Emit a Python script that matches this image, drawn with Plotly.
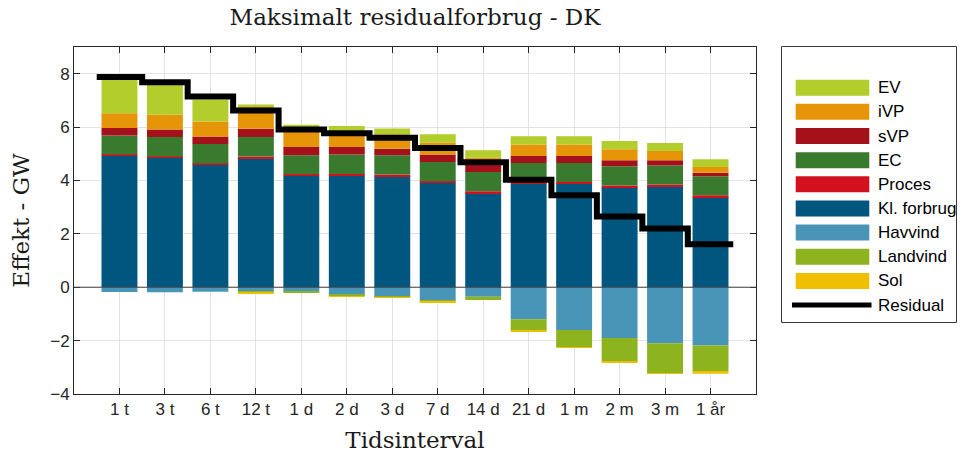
import plotly.graph_objects as go

categories = ["1 t", "3 t", "6 t", "12 t", "1 d", "2 d", "3 d", "7 d", "14 d", "21 d", "1 m", "2 m", "3 m", "1 år"]

ev       = [1.47, 1.19, 0.82, 0.07, 0.07, 0.18, 0.22, 0.31, 0.27, 0.31, 0.31, 0.31, 0.30, 0.29]
ivp      = [0.55, 0.55, 0.56, 0.84, 0.77, 0.61, 0.54, 0.45, 0.22, 0.43, 0.43, 0.41, 0.34, 0.21]
svp      = [0.29, 0.28, 0.28, 0.31, 0.31, 0.28, 0.25, 0.28, 0.32, 0.27, 0.27, 0.23, 0.20, 0.13]
ec       = [0.71, 0.73, 0.73, 0.73, 0.71, 0.73, 0.72, 0.72, 0.72, 0.71, 0.71, 0.72, 0.71, 0.71]
proces   = [0.05, 0.04, 0.05, 0.06, 0.06, 0.06, 0.06, 0.05, 0.07, 0.06, 0.06, 0.06, 0.07, 0.07]
kl_forbrug = [4.92, 4.86, 4.59, 4.84, 4.17, 4.18, 4.16, 3.92, 3.53, 3.88, 3.88, 3.75, 3.78, 3.38]
havvind  = [-0.18, -0.19, -0.17, -0.16, -0.16, -0.29, -0.36, -0.48, -0.36, -1.20, -1.60, -1.90, -2.10, -2.18]
landvind = [0.0, 0.0, 0.0, -0.05, -0.04, -0.04, -0.03, -0.07, -0.12, -0.43, -0.65, -0.89, -1.12, -0.96]
sol      = [0.0, 0.0, 0.0, -0.01, 0.0, -0.01, -0.01, -0.01, 0.0, -0.03, -0.02, -0.03, -0.01, -0.10]
residual = [7.88, 7.68, 7.15, 6.62, 5.91, 5.77, 5.60, 5.22, 4.68, 4.03, 3.45, 2.65, 2.20, 1.61]

y_ticks = [-4, -2, 0, 2, 4, 6, 8]

# stacking order (first = nearest zero)
bar_series = [
    ("Havvind", havvind, "#4895b7"),
    ("Landvind", landvind, "#8db31f"),
    ("Sol", sol, "#f0c000"),
    ("Kl. forbrug", kl_forbrug, "#00567e"),
    ("Proces", proces, "#d3101e"),
    ("EC", ec, "#3a7a2f"),
    ("sVP", svp, "#a5111a"),
    ("iVP", ivp, "#e69508"),
    ("EV", ev, "#b2cd2c"),
]
legend_order = ["EV", "iVP", "sVP", "EC", "Proces", "Kl. forbrug", "Havvind", "Landvind", "Sol"]
colors = {n: c for n, _, c in bar_series}

xpos = list(range(len(categories)))

fig = go.Figure()
for name, vals, col in bar_series:
    fig.add_trace(go.Bar(x=xpos, y=vals, name=name, width=0.79,
                         marker=dict(color=col, line=dict(width=0)),
                         showlegend=False))

# residual as a stair line
step_x = [i - 0.5 for i in xpos] + [xpos[-1] + 0.5]
step_y = residual + [residual[-1]]
fig.add_trace(go.Scatter(x=step_x, y=step_y, mode="lines", name="Residual",
                         line=dict(color="black", width=6, shape="hv"),
                         showlegend=False))

# plot area in pixels
L, R, T, B = 74, 756, 47, 394
W, H = 962, 458


def px(x):
    return (x - L) / (R - L)


def py(y):
    return (B - y) / (B - T)


shapes = []
annotations = []
# zero reference line over the bars
shapes.append(dict(type="line", xref="paper", yref="y", x0=0, x1=1, y0=0, y1=0,
                   line=dict(color="#404040", width=1), layer="above"))
# legend box
shapes.append(dict(type="rect", xref="paper", yref="paper",
                   x0=px(781.5), x1=px(956.5), y0=py(46.5), y1=py(322.5),
                   line=dict(color="#3a3a3a", width=1), fillcolor="white", layer="above"))
entry_y0, entry_dy = 87.7, 24.15
legend_font = dict(family="Liberation Sans, Arial, sans-serif", size=17, color="black")
for i, name in enumerate(legend_order + ["Residual"]):
    yc = entry_y0 + i * entry_dy
    if name == "Residual":
        shapes.append(dict(type="line", xref="paper", yref="paper",
                           x0=px(792), x1=px(871.5), y0=py(yc), y1=py(yc),
                           line=dict(color="black", width=5), layer="above"))
    else:
        shapes.append(dict(type="rect", xref="paper", yref="paper",
                           x0=px(795.7), x1=px(869.3), y0=py(yc - 8), y1=py(yc + 8),
                           line=dict(width=0), fillcolor=colors[name], layer="above"))
    annotations.append(dict(text=name, xref="paper", yref="paper", x=px(876), y=py(yc),
                            xanchor="left", yanchor="middle", showarrow=False, font=legend_font))

serif = "DejaVu Serif, Liberation Serif, serif"
tickfont = dict(family="Liberation Sans, Arial, sans-serif", size=17, color="#262626")
titlefont = dict(family=serif, size=23, color="#1a1a1a")

fig.update_layout(
    width=W, height=H,
    margin=dict(l=L, r=W - R, t=T, b=H - B, autoexpand=False),
    paper_bgcolor="white", plot_bgcolor="white",
    barmode="relative", bargap=0.2,
    title=dict(text="Maksimalt residualforbrug - DK", x=(L + R) / 2 / W, xanchor="center",
               y=1 - 17 / H, yanchor="middle", yref="container", font=titlefont),
    shapes=shapes, annotations=annotations,
    xaxis=dict(range=[-1, 14], tickmode="array", tickvals=xpos, ticktext=categories,
               ticks="inside", ticklen=6, tickcolor="#262626", showline=True,
               linecolor="#262626", linewidth=1, mirror="ticks", showgrid=True,
               gridcolor="#e3e3e3", zeroline=False, tickfont=tickfont,
               title=dict(text="Tidsinterval", font=titlefont, standoff=13),
               automargin=False, fixedrange=True),
    yaxis=dict(range=[-4, 9], tickmode="array", tickvals=y_ticks,
               ticks="inside", ticklen=6, tickcolor="#262626", showline=True,
               linecolor="#262626", linewidth=1, mirror="ticks", showgrid=True,
               gridcolor="#e3e3e3", zeroline=False,
               tickfont=tickfont,
               title=dict(text="Effekt - GW", font=titlefont, standoff=14),
               automargin=False, fixedrange=True),
)

fig.write_html("out.html", config={"displayModeBar": False},
               post_script="document.body.style.margin='0';")
